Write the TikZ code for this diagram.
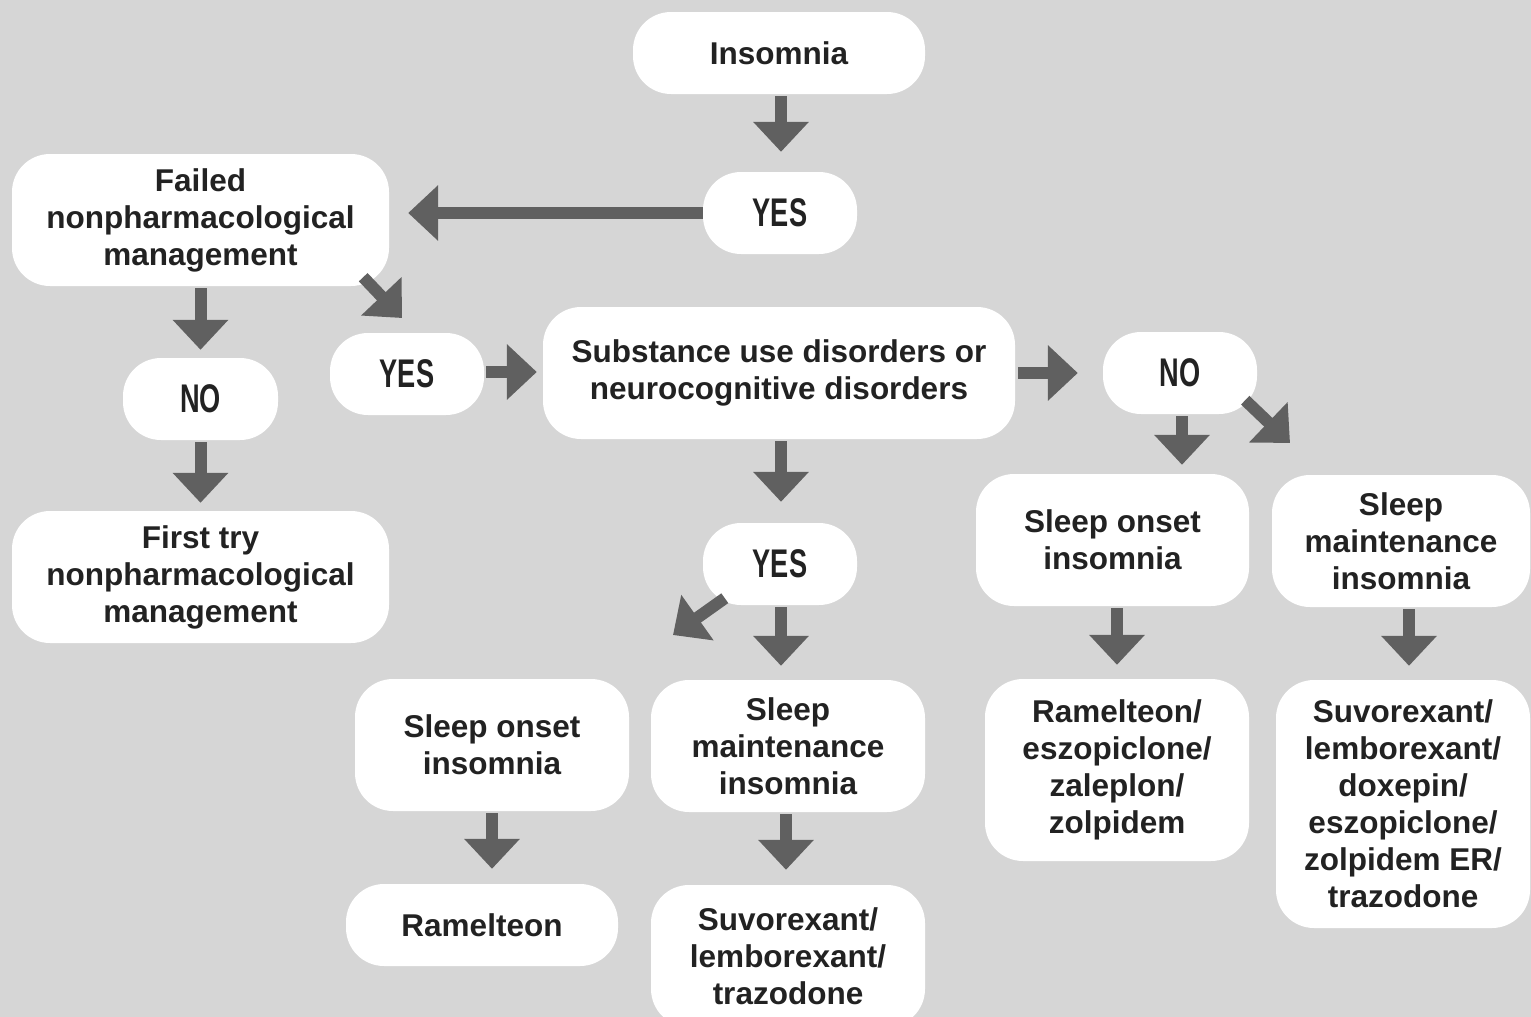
\documentclass[tikz,border=0pt]{standalone}
\usepackage{fontspec}
\setmainfont{Liberation Sans}
\newfontfamily\ynfont{Liberation Sans}[FakeStretch=0.68]
\usetikzlibrary{arrows.meta,calc}
\definecolor{bg}{HTML}{D6D6D6}
\definecolor{arrc}{HTML}{606060}
\definecolor{txt}{HTML}{222222}
\begin{document}
\begin{tikzpicture}[x=1pt,y=-1pt,
  box/.style={fill=white, rounded corners=38pt, inner sep=0pt, align=center, text=txt,
    font=\fontsize{31.5}{37}\selectfont\bfseries},
  yn/.style={box, minimum width=154pt, minimum height=82pt,
    font=\fontsize{40}{40}\selectfont\ynfont\bfseries},
  arr/.style={draw=arrc, line width=12pt, -{Triangle[width=54pt,length=30pt]}}]
\clip (0,0) rectangle (1531,1017);
\fill[bg] (0,0) rectangle (1531,1017);

% nodes
\node[box, minimum width=292pt, minimum height=82pt] (ins) at (779,53) {Insomnia};
\node[yn] (yes1) at (780,213) {YES};
\node[box, minimum width=377pt, minimum height=132pt] (failed) at (200.5,220) {Failed\\nonpharmacological\\management};
\node[yn] (yes2) at (407,374) {YES};
\node[box, minimum width=472pt, minimum height=132pt] (sub) at (779,373) {Substance use disorders or\\neurocognitive disorders};
\node[yn] (no) at (1180,373) {NO};
\node[yn, minimum width=155pt] (noL) at (200.5,399) {NO};
\node[box, minimum width=377pt, minimum height=132pt] (first) at (200.5,577) {First try\\nonpharmacological\\management};
\node[yn] (yes3) at (780,564) {YES};
\node[box, minimum width=274pt, minimum height=132pt] (sonL) at (492,745) {Sleep onset\\insomnia};
\node[box, minimum width=274pt, minimum height=132pt] (smM) at (788,746) {Sleep\\maintenance\\insomnia};
\node[box, minimum width=272pt, minimum height=82pt] (ram) at (482,925) {Ramelteon};
\node[box, minimum width=274pt, minimum height=142pt] (suvM) at (788,956) {Suvorexant/\\lemborexant/\\trazodone};
\node[box, minimum width=273pt, minimum height=132pt] (sonR) at (1112.5,540) {Sleep onset\\insomnia};
\node[box, minimum width=258pt, minimum height=132pt] (smR) at (1401,541) {Sleep\\maintenance\\insomnia};
\node[box, minimum width=264pt, minimum height=182pt] (ramR) at (1117,770) {Ramelteon/\\eszopiclone/\\zaleplon/\\zolpidem};
\node[box, minimum width=254pt, minimum height=248pt] (suvR) at (1403,804) {Suvorexant/\\lemborexant/\\doxepin/\\eszopiclone/\\zolpidem ER/\\trazodone};

% free tips of diagonal arrows
\coordinate (tipA) at (402,318);
\coordinate (tipB) at (1290,443);
\coordinate (tipC) at (673,635);

% connectors
\draw[arr] ($(ins.south)+(2,2)$) -- ($(yes1.north)+(1,-20)$);
\draw[arr] (yes1.west) -- ($(yes1.west -| failed.east)+(19,0)$);
\draw[arr] ($(failed.south)+(0,2)$) -- ($(noL.north)+(0,-8)$);
\draw[arr] ($(noL.south)+(0,2)$) -- ($(first.north)+(0,-8)$);
\draw[arr] ($(failed.south east)+(-26,-9)$) -- (tipA);
\draw[arr] ($(yes2.east)+(2,-2)$) -- ($(yes2.east -| sub.west)+(-6,-2)$);
\draw[arr] ($(sub.east)+(3,0)$) -- ($(sub.east -| no.west)+(-25,0)$);
\draw[arr] ($(sub.south)+(2,2)$) -- ($(yes3.north)+(1,-21)$);
\draw[arr] ($(no.south)+(2,2)$) -- ($(no.south |- sonR.north)+(2,-9)$);
\draw[arr] ($(no.south east)+(-12,-14)$) -- (tipB);
\draw[arr] ($(yes3.south)+(1,2)$) -- ($(yes3.south |- smM.north)+(1,-14)$);
\draw[arr] ($(yes3.south west)+(22,-7)$) -- (tipC);
\draw[arr] ($(sonL.south)+(0,2)$) -- ($(sonL.south |- ram.north)+(0,-15)$);
\draw[arr] ($(smM.south)+(-2,2)$) -- ($(smM.south |- suvM.north)+(-2,-15)$);
\draw[arr] ($(sonR.south)+(4.5,2)$) -- ($(sonR.south |- ramR.north)+(4.5,-14)$);
\draw[arr] ($(smR.south)+(8,2)$) -- ($(smR.south |- suvR.north)+(8,-14)$);
\end{tikzpicture}
\end{document}
